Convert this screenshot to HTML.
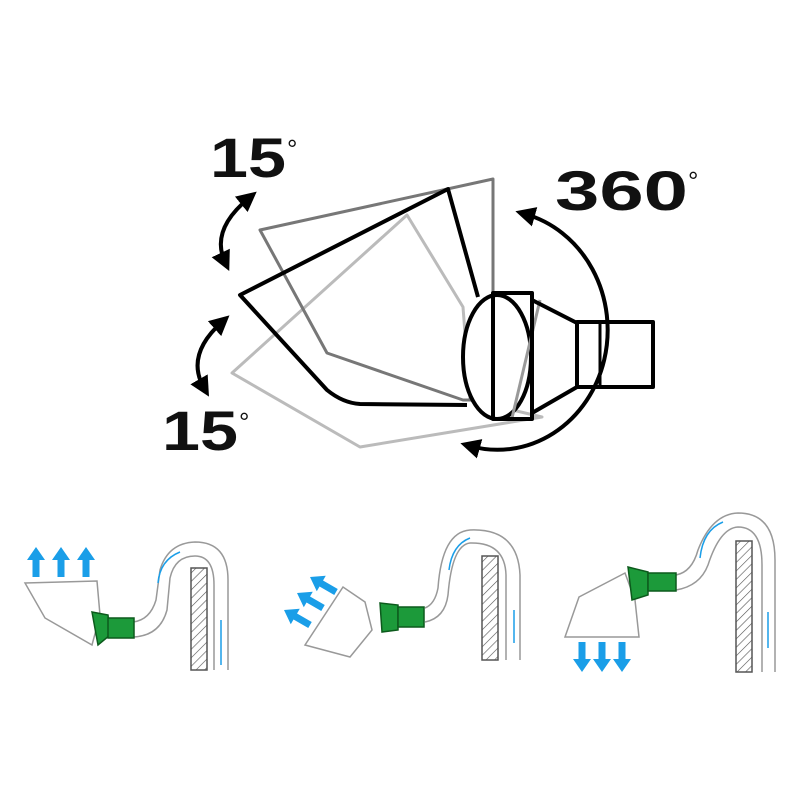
<!DOCTYPE html>
<html><head><style>body{margin:0;background:#fff}svg{display:block}</style></head><body>
<svg width="800" height="800" viewBox="0 0 800 800" xmlns="http://www.w3.org/2000/svg">
<defs>
<marker id="ah" viewBox="0 0 10 10" refX="5" refY="5" markerWidth="5" markerHeight="5" orient="auto-start-reverse"><path d="M0,0L10,5L0,10z" fill="#000"/></marker>
<pattern id="hatch" width="6" height="6" patternUnits="userSpaceOnUse" patternTransform="rotate(45)"><line x1="0" y1="0" x2="0" y2="6" stroke="#555" stroke-width="1.2"/></pattern>
<path id="ba" d="M0,-3.5 L17,-3.5 L17,-9 L30,0 L17,9 L17,3.5 L0,3.5Z" fill="#1a9ee8"/>
</defs>
<g font-family="Liberation Sans, sans-serif" font-weight="bold" fill="#111">
<text x="210" y="177" font-size="56" textLength="76" lengthAdjust="spacingAndGlyphs">15</text><text x="287" y="158" font-size="26" font-weight="normal">°</text>
<text x="162" y="450" font-size="56" textLength="76" lengthAdjust="spacingAndGlyphs">15</text><text x="239" y="431" font-size="26" font-weight="normal">°</text>
<text x="555" y="210" font-size="56" textLength="133" lengthAdjust="spacingAndGlyphs">360</text><text x="688" y="190" font-size="26" font-weight="normal">°</text>
</g>
<g fill="none" stroke-linejoin="round">
<polygon points="232,373 407,215 463,307 470,400 542,417 360,447" stroke="#bbb" stroke-width="3"/>
<polygon points="260,230 493,179 493,293 470,400 463,400 327,353" stroke="#777" stroke-width="3"/>
<path d="M478,297 L448,189 L240,295 L327,390 Q343,403 360,404 L467,405" stroke="#000" stroke-width="4" fill="none"/>
<ellipse cx="497" cy="357" rx="34" ry="62" stroke="#000" stroke-width="4" fill="#fff"/>
<path d="M540,300 L512,418" stroke="#999" stroke-width="3"/>
<rect x="493" y="293" width="39" height="126" stroke="#000" stroke-width="4"/>
<path d="M532,300 L577,323 M532,413 L577,387" stroke="#000" stroke-width="4"/>
<rect x="577" y="322" width="76" height="65" stroke="#000" stroke-width="4"/>
<line x1="600" y1="322" x2="600" y2="387" stroke="#000" stroke-width="3"/>
<path d="M525,214 A103,112 0 0 1 470,446" stroke="#000" stroke-width="4" marker-start="url(#ah)" marker-end="url(#ah)"/>
<path d="M249,198 Q210,230 225,262" stroke="#000" stroke-width="4" marker-start="url(#ah)" marker-end="url(#ah)"/>
<path d="M222,322 Q185,355 204,388" stroke="#000" stroke-width="4" marker-start="url(#ah)" marker-end="url(#ah)"/>
</g>
<g fill="none" stroke="#999" stroke-width="1.5">
<path d="M133,622 Q150,620 156,600 L160,570 Q168,543 195,542 Q228,542 228,580 L228,670"/>
<path d="M133,637 Q160,636 167,610 L170,578 Q175,556 195,556 Q214,556 214,585 L214,670"/>
<rect x="191" y="568" width="16" height="102" fill="url(#hatch)" stroke="#555"/>
<polygon points="25,583 97,581 100,615 92,645 45,618"/>
<path d="M425,608 Q435,604 438,588 Q442,532 470,530 Q518,528 520,575 L520,660"/>
<path d="M425,622 Q445,618 448,595 Q452,545 470,543 Q505,542 506,575 L506,660"/>
<rect x="482" y="556" width="16" height="104" fill="url(#hatch)" stroke="#555"/>
<polygon points="305,645 343,587 365,602 372,630 350,657"/>
<path d="M676,575 Q692,572 698,550 Q712,514 738,513 Q775,513 775,560 L775,672"/>
<path d="M676,590 Q700,586 708,565 Q720,528 738,527 Q762,527 762,565 L762,672"/>
<rect x="736" y="541" width="16" height="131" fill="url(#hatch)" stroke="#555"/>
<polygon points="565,637 579,597 625,573 635,600 639,637"/>
</g>
<g fill="#1c9a3a" stroke="#0c5a1c" stroke-width="1.5">
<path d="M92,612 L108,615 L110,635 L98,645 Z"/><rect x="108" y="618" width="26" height="20"/>
<path d="M380,603 L398,605 L398,630 L382,632 Z"/><rect x="398" y="607" width="26" height="20"/>
<path d="M628,567 L648,572 L648,595 L632,600 Z"/><rect x="648" y="573" width="28" height="18"/>
</g>
<use href="#ba" transform="translate(36,577) rotate(-90)"/>
<use href="#ba" transform="translate(61,577) rotate(-90)"/>
<use href="#ba" transform="translate(86,577) rotate(-90)"/>
<use href="#ba" transform="translate(582,642) rotate(90)"/>
<use href="#ba" transform="translate(602,642) rotate(90)"/>
<use href="#ba" transform="translate(622,642) rotate(90)"/>
<use href="#ba" transform="translate(336,592) rotate(210)"/>
<use href="#ba" transform="translate(323,608) rotate(210)"/>
<use href="#ba" transform="translate(310,625) rotate(210)"/>
<g fill="none" stroke="#1a9ee8" stroke-width="1.5"><path d="M180,552 Q160,560 158,583"/><path d="M221,665 L221,620"/>
<path d="M470,538 Q452,545 449,570"/><path d="M514,643 L514,610"/>
<path d="M723,522 Q703,530 700,558"/><path d="M768,648 L768,612"/></g>
</svg>
</body></html>
